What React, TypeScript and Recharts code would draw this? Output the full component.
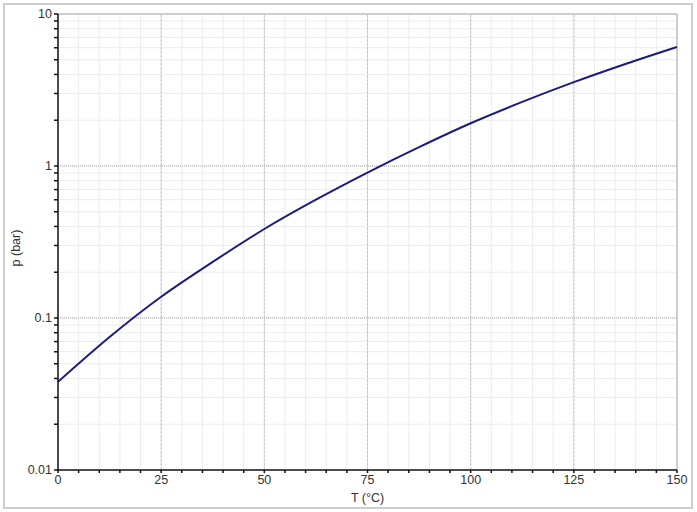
import React from "react";
import {
  CartesianGrid,
  Line,
  LineChart,
  ReferenceLine,
  XAxis,
  YAxis,
} from "recharts";

// temperature (°C) and vapour pressure (bar)
const temperature = [0, 12.5, 25, 37.5, 50, 62.5, 75, 87.5, 100, 112.5, 125, 137.5, 150];
const pressure = [0.038, 0.075, 0.138, 0.234, 0.385, 0.6, 0.905, 1.33, 1.91, 2.64, 3.56, 4.69, 6.07];

const xTicks = [
  0, 5, 10, 15, 20, 25, 30, 35, 40, 45, 50, 55, 60, 65, 70, 75, 80, 85, 90, 95,
  100, 105, 110, 115, 120, 125, 130, 135, 140, 145, 150,
];
const xLabels = [0, 25, 50, 75, 100, 125, 150];
const xMajorGrid = [25, 50, 75, 100, 125];

const yTicks = [
  0.01, 0.02, 0.03, 0.04, 0.05, 0.06, 0.07, 0.08, 0.09,
  0.1, 0.2, 0.3, 0.4, 0.5, 0.6, 0.7, 0.8, 0.9,
  1, 2, 3, 4, 5, 6, 7, 8, 9, 10,
];
const yLabels = [0.01, 0.1, 1, 10];
const yMajorGrid = [0.1, 1];

const data = temperature.map((t, i) => ({ t, p: pressure[i] }));

const font = '"Liberation Sans", Arial, sans-serif';
const tickStyle = { fill: "#333", fontSize: 12.5, fontFamily: font };

export default function App() {
  return (
    <div style={{ position: "absolute", left: 0, top: 0, width: 697, height: 512, background: "#fff" }}>
      <div
        style={{
          position: "absolute",
          left: 3,
          top: 3,
          width: 690,
          height: 506,
          boxSizing: "border-box",
          border: "2px solid #cfcfcf",
        }}
      />
      <div style={{ position: "absolute", left: 0, top: 0 }}>
        <LineChart
          width={697}
          height={512}
          data={data}
          margin={{ top: 14, right: 20, bottom: 0, left: 0 }}
        >
          <CartesianGrid stroke="#ececec" strokeWidth={1} />
          {xMajorGrid.map((x) => (
            <ReferenceLine key={"x" + x} x={x} stroke="#c4c4c4" strokeDasharray="3 1" />
          ))}
          {yMajorGrid.map((y) => (
            <ReferenceLine key={"y" + y} y={y} stroke="#a8a8a8" strokeDasharray="1 1" />
          ))}
          <ReferenceLine y={10} stroke="#a8a8a8" />
          <ReferenceLine x={150} stroke="#a8a8a8" />
          <XAxis
            dataKey="t"
            type="number"
            domain={[0, 150]}
            ticks={xTicks}
            interval={0}
            height={42}
            tickSize={3}
            axisLine={{ stroke: "#111", strokeWidth: 1.5 }}
            tickLine={{ stroke: "#111", strokeWidth: 1.5 }}
            tick={tickStyle}
            tickFormatter={(v) => (xLabels.includes(v) ? String(v) : "")}
            label={{
              value: "T (°C)",
              position: "insideBottom",
              offset: 10,
              style: { fill: "#333", fontSize: 12.5, fontFamily: font },
            }}
          />
          <YAxis
            dataKey="p"
            scale="log"
            domain={[0.01, 10]}
            allowDataOverflow
            ticks={yTicks}
            interval={0}
            width={58}
            tickSize={4}
            axisLine={{ stroke: "#111", strokeWidth: 1.5 }}
            tickLine={{ stroke: "#111", strokeWidth: 1.5 }}
            tick={tickStyle}
            tickFormatter={(v) => (yLabels.includes(v) ? String(v) : "")}
            label={{
              value: "p (bar)",
              content: () => (
                <text
                  x={20}
                  y={248}
                  transform="rotate(-90 20 248)"
                  textAnchor="middle"
                  fill="#333"
                  fontSize={12.5}
                  fontFamily={font}
                >
                  p (bar)
                </text>
              ),
            }}
          />
          <Line
            type="monotone"
            dataKey="p"
            stroke="#1c1c7c"
            strokeWidth={2}
            dot={false}
            isAnimationActive={false}
          />
        </LineChart>
      </div>
    </div>
  );
}
